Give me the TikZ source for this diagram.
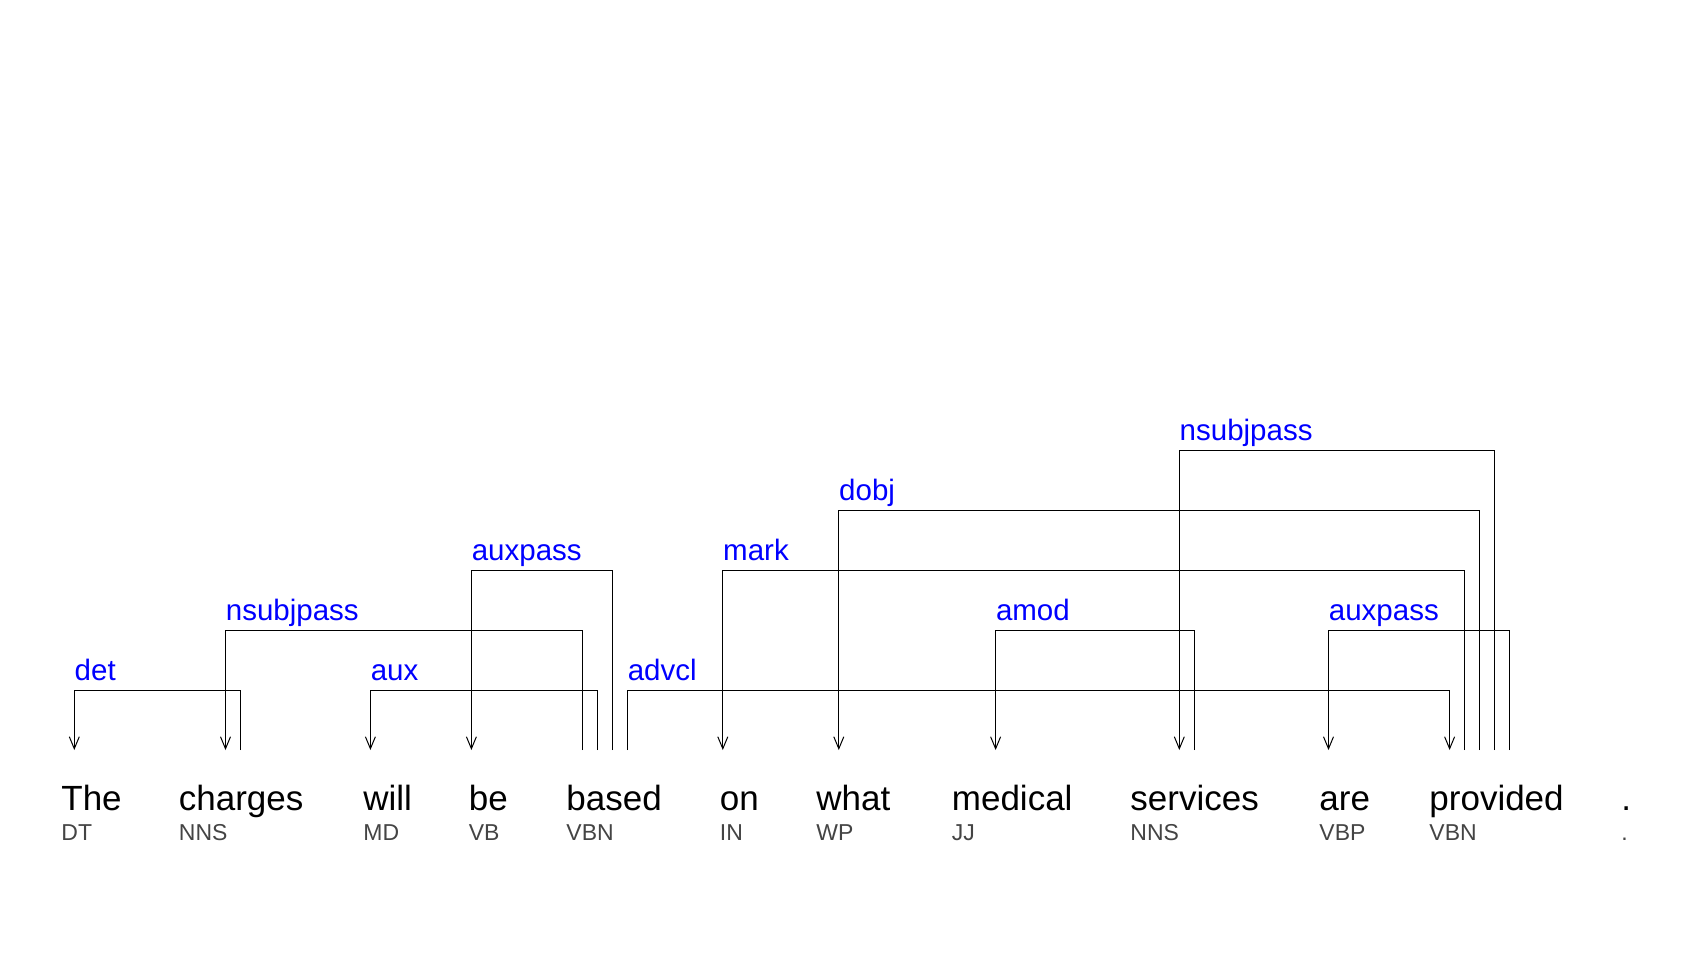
\documentclass[tikz,border=0pt]{standalone}
\usepackage{fontspec}
\setmainfont{Liberation Sans}
\usetikzlibrary{arrows.meta}
\definecolor{tagc}{RGB}{68,68,68}
\definecolor{labc}{RGB}{0,0,255}
\newcommand\deplink[3]{\draw[deparc] (#1) -- (#1 |- 0,#3) -- (#2 |- 0,#3) -- (#2);}
\begin{document}
\begin{tikzpicture}[x=0.5pt,y=-0.5pt,
  word/.style={anchor=base west, inner sep=0pt, font=\fontsize{17.5pt}{20pt}\selectfont},
  tag/.style={anchor=base west, inner sep=0pt, text=tagc, font=\fontsize{11.5pt}{14pt}\selectfont},
  lab/.style={anchor=base west, inner sep=0pt, text=labc, yshift=5pt, font=\fontsize{14.75pt}{17pt}\selectfont},
  deparc/.style={draw=black, line width=0.5pt, -{Straight Barb[length=6pt,width=5pt]}}]
\useasboundingbox[fill=white] (0,0) rectangle (1684,960);
% words and tags
\node[word] (w1) at (61,810) {The};      \node[tag] (t1) at (61,840) {DT};
\node[word] (w2) at (178.5,810) {charges}; \node[tag] (t2) at (178.5,840) {NNS};
\node[word] (w3) at (363,810) {will};    \node[tag] (t3) at (363,840) {MD};
\node[word] (w4) at (468.5,810) {be};    \node[tag] (t4) at (468.5,840) {VB};
\node[word] (w5) at (566,810) {based};   \node[tag] (t5) at (566,840) {VBN};
\node[word] (w6) at (719.5,810) {on};    \node[tag] (t6) at (719.5,840) {IN};
\node[word] (w7) at (816,810) {what};    \node[tag] (t7) at (816,840) {WP};
\node[word] (w8) at (951.5,810) {medical}; \node[tag] (t8) at (951.5,840) {JJ};
\node[word] (w9) at (1130,810) {services}; \node[tag] (t9) at (1130,840) {NNS};
\node[word] (w10) at (1319,810) {are};   \node[tag] (t10) at (1319,840) {VBP};
\node[word] (w11) at (1429,810) {provided}; \node[tag] (t11) at (1429,840) {VBN};
\node[word] (w12) at (1621,810) {.};     \node[tag] (t12) at (1621,840) {.};
% attachment points
\coordinate (det-d) at (74.3,750);   \coordinate (det-g) at (240.3,750);
\coordinate (ns1-d) at (225.5,750);  \coordinate (ns1-g) at (582.3,750);
\coordinate (aux-d) at (370.4,750);  \coordinate (aux-g) at (597.3,750);
\coordinate (ap1-d) at (471.4,750);  \coordinate (ap1-g) at (612.4,750);
\coordinate (adv-g) at (627.4,750);  \coordinate (adv-d) at (1449.6,750);
\coordinate (mrk-d) at (722.8,750);  \coordinate (mrk-g) at (1464.6,750);
\coordinate (dob-d) at (838.8,750);  \coordinate (dob-g) at (1479.6,750);
\coordinate (amd-d) at (995.6,750);  \coordinate (amd-g) at (1194.3,750);
\coordinate (ns2-d) at (1179.3,750); \coordinate (ns2-g) at (1494.6,750);
\coordinate (ap2-d) at (1328.5,750); \coordinate (ap2-g) at (1509.6,750);
% arcs
\deplink{det-g}{det-d}{690.5}
\deplink{ns1-g}{ns1-d}{630.5}
\deplink{aux-g}{aux-d}{690.5}
\deplink{ap1-g}{ap1-d}{570.5}
\deplink{adv-g}{adv-d}{690.5}
\deplink{mrk-g}{mrk-d}{570.5}
\deplink{dob-g}{dob-d}{510.5}
\deplink{amd-g}{amd-d}{630.5}
\deplink{ns2-g}{ns2-d}{450.5}
\deplink{ap2-g}{ap2-d}{630.5}
% labels
\node[lab] (l-det) at (det-d |- 0,690.5) {det};
\node[lab] (l-ns1) at (ns1-d |- 0,630.5) {nsubjpass};
\node[lab] (l-aux) at (aux-d |- 0,690.5) {aux};
\node[lab] (l-ap1) at (ap1-d |- 0,570.5) {auxpass};
\node[lab] (l-adv) at (adv-g |- 0,690.5) {advcl};
\node[lab] (l-mrk) at (mrk-d |- 0,570.5) {mark};
\node[lab] (l-dob) at (dob-d |- 0,510.5) {dobj};
\node[lab] (l-amd) at (amd-d |- 0,630.5) {amod};
\node[lab] (l-ns2) at (ns2-d |- 0,450.5) {nsubjpass};
\node[lab] (l-ap2) at (ap2-d |- 0,630.5) {auxpass};
\end{tikzpicture}
\end{document}
